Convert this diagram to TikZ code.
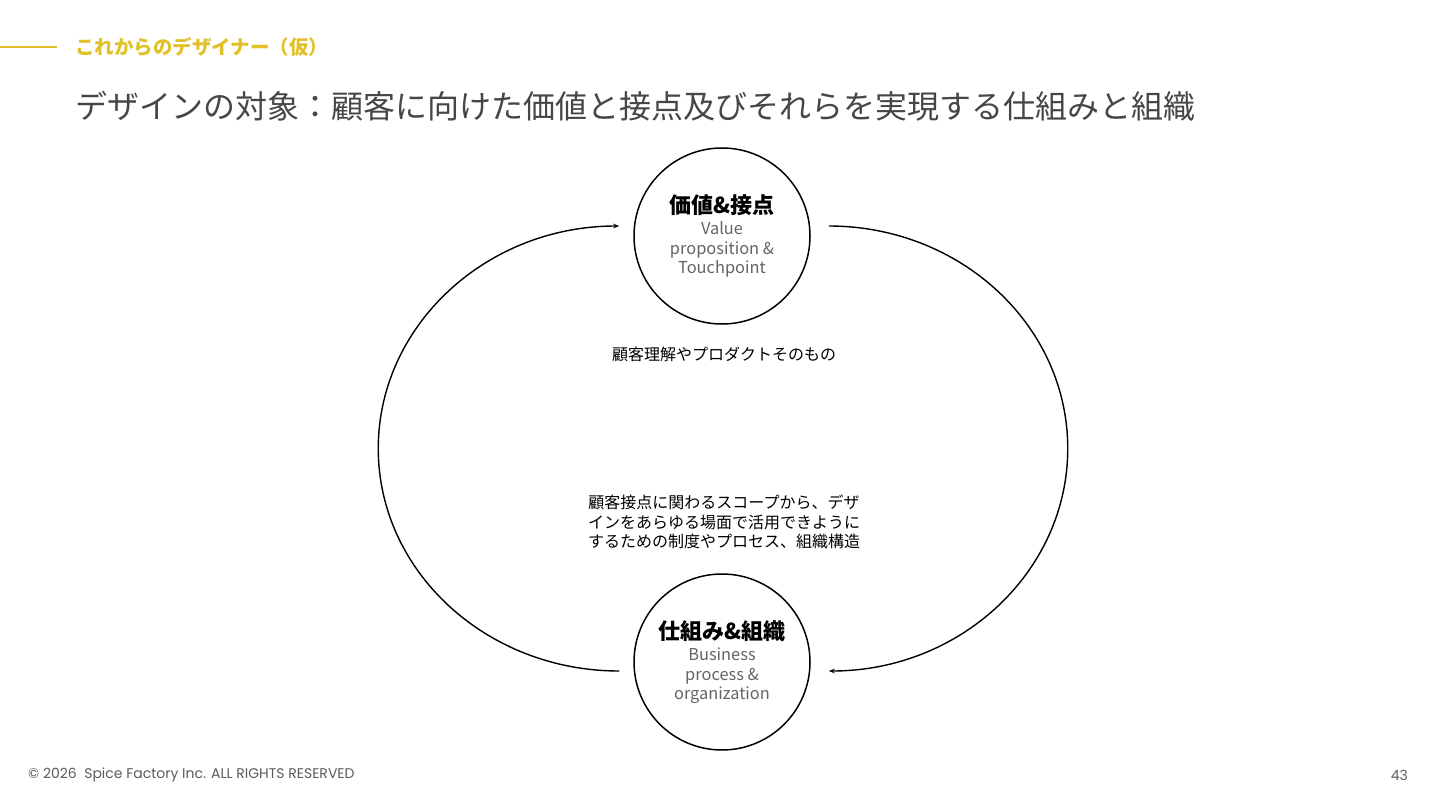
\documentclass[tikz,border=0pt]{standalone}
\usepackage{fontspec}
\setmainfont{Noto Sans CJK JP}
\newfontfamily\footfont{Poppins}
\usetikzlibrary{arrows.meta}
\definecolor{accent}{RGB}{226,192,40}
\definecolor{titlegray}{RGB}{70,70,70}
\definecolor{labelgray}{RGB}{100,100,100}
\newcommand{\headfont}{\color{black}\fontsize{22}{26}\selectfont\bfseries}
\tikzset{
    circ/.style={circle, draw, line width=1.5pt, minimum size=176pt, inner sep=0pt, align=center,
        text=labelgray, font=\fontsize{16.4}{19.5}\selectfont},
    cycle/.style={line width=1.4pt, -{Stealth[length=6pt,width=4.5pt]}},
    midtext/.style={align=center, inner sep=0pt, font=\fontsize{16}{19.5}\selectfont},
    foot/.style={inner sep=0pt, text=labelgray!90!black, font=\footfont\fontsize{14}{16}\selectfont}
}
\begin{document}
\begin{tikzpicture}[x=1pt, y=-1pt]
    \useasboundingbox (0,0) rectangle (1440,810);
    % header
    \node[anchor=west, inner sep=0pt, text=accent, font=\fontsize{19.5}{23}\selectfont\bfseries] (subtitle) at (75,47) {これからのデザイナー（仮）};
    \draw[accent, line width=1.2pt] (subtitle.west -| 0,0) -- ([xshift=-18pt]subtitle.west);
    \node[anchor=west, inner sep=0pt, text=titlegray, font=\fontsize{32}{36}\selectfont] (title) at (75,106) {デザインの対象：顧客に向けた価値と接点及びそれらを実現する仕組みと組織};
    % the two circles
    \node[circ] (topcirc) at (722,236) {{\headfont 価値\&接点}\\[2pt]Value\\proposition \&\\Touchpoint};
    \node[circ] (botcirc) at (722,662) {{\headfont 仕組み\&組織}\\[2pt]Business\\process \&\\organization};
    % texts in between
    \node[midtext] (understand) at (724,354) {顧客理解やプロダクトそのもの};
    \node[midtext] (scope) at (724,522) {顧客接点に関わるスコープから、デザ\\インをあらゆる場面で活用できように\\するための制度やプロセス、組織構造};
    % loop
    \draw[cycle] ([shift={(-14,9)}]botcirc.west) arc[start angle=270, end angle=90, x radius=241pt, y radius=222.5pt];
    \draw[cycle] ([shift={(18,-10)}]topcirc.east) arc[start angle=90, end angle=-90, x radius=239pt, y radius=222.5pt];
    % footer
    \node[foot, anchor=west] (copyright) at (28,775) {\textcopyright\ 2026\ \ Spice Factory Inc. ALL RIGHTS RESERVED};
    \node[foot, anchor=east] (pagenum) at (1408,775) {43};
\end{tikzpicture}
\end{document}
